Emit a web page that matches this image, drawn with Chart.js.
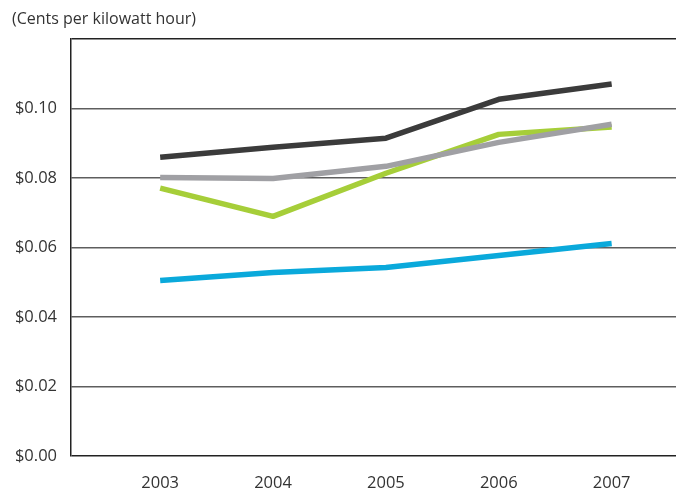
<!DOCTYPE html>
<html>
<head>
<meta charset="utf-8">
<script src="https://cdn.jsdelivr.net/npm/chart.js@4/dist/chart.umd.min.js"></script>
<style>
  html, body { margin: 0; padding: 0; background: #fff; }
  #wrap { position: relative; width: 676px; height: 494px; }
</style>
</head>
<body>
<div id="wrap"><canvas id="priceChart"></canvas></div>
<script>
// Values (dollars per kWh)
const years = [2003, 2004, 2005, 2006, 2007];
const darkSeries  = [0.0860, 0.0889, 0.0915, 0.1027, 0.1071];
const greySeries  = [0.0802, 0.0799, 0.0834, 0.0903, 0.0955];
const greenSeries = [0.0771, 0.0690, 0.0814, 0.0926, 0.0947];
const blueSeries  = [0.0505, 0.0528, 0.0543, 0.0577, 0.0612];
const yTicks = [0, 0.02, 0.04, 0.06, 0.08, 0.10, 0.12];

const TEXT = '#333333';
const FONT = '"Open Sans", "Noto Sans", sans-serif';

function points(vals) {
    return years.map((yr, i) => ({ x: yr, y: vals[i] }));
}

function line(vals, color) {
    return {
        data: points(vals),
        borderColor: color,
        backgroundColor: color,
        borderWidth: 5.5,
        pointRadius: 0,
        tension: 0,
        borderCapStyle: 'butt',
        borderJoinStyle: 'round'
    };
}

new Chart(document.getElementById('priceChart'), {
    type: 'line',
    data: {
        datasets: [
            line(darkSeries, '#3b3b3b'),
            line(greySeries, '#a0a0a4'),
            line(greenSeries, '#a6ce39'),
            line(blueSeries, '#0aa9db')
        ]
    },
    options: {
        responsive: true,
        maintainAspectRatio: false,
        animation: false,
        layout: { padding: { left: 12, right: 0, top: 0, bottom: 1 } },
        plugins: {
            legend: { display: false },
            tooltip: { enabled: false },
            title: {
                display: true,
                text: '(Cents per kilowatt hour)',
                align: 'start',
                color: TEXT,
                font: { family: FONT, size: 16, weight: 'normal' },
                padding: { top: 10, bottom: 10 }
            }
        },
        scales: {
            x: {
                type: 'linear',
                min: 2002.21,
                max: 2007.57,
                afterBuildTicks: scale => { scale.ticks = years.map(v => ({ value: v })); },
                afterFit: scale => { scale.height = 37; },
                grid: { display: false, drawTicks: false },
                border: { display: false },
                ticks: {
                    color: TEXT,
                    font: { family: FONT, size: 16.5 },
                    padding: 17,
                    maxRotation: 0,
                    callback: v => String(v)
                }
            },
            y: {
                min: 0,
                max: 0.12,
                afterBuildTicks: scale => { scale.ticks = yTicks.map(v => ({ value: v })); },
                afterFit: scale => { scale.width = 59; },
                grid: {
                    drawTicks: false,
                    color: ctx => (ctx.index === 0 || ctx.index === yTicks.length - 1) ? '#222222' : '#5e5e5e',
                    lineWidth: ctx => (ctx.index === 0 || ctx.index === yTicks.length - 1) ? 1.5 : 1.4
                },
                border: { display: true, color: '#222222', width: 1.5 },
                ticks: {
                    color: TEXT,
                    font: { family: FONT, size: 16.5 },
                    padding: 14,
                    callback: (v, i) => i === yTicks.length - 1 ? '' : '$' + Number(v).toFixed(2)
                }
            }
        }
    }
});
</script>
</body>
</html>
